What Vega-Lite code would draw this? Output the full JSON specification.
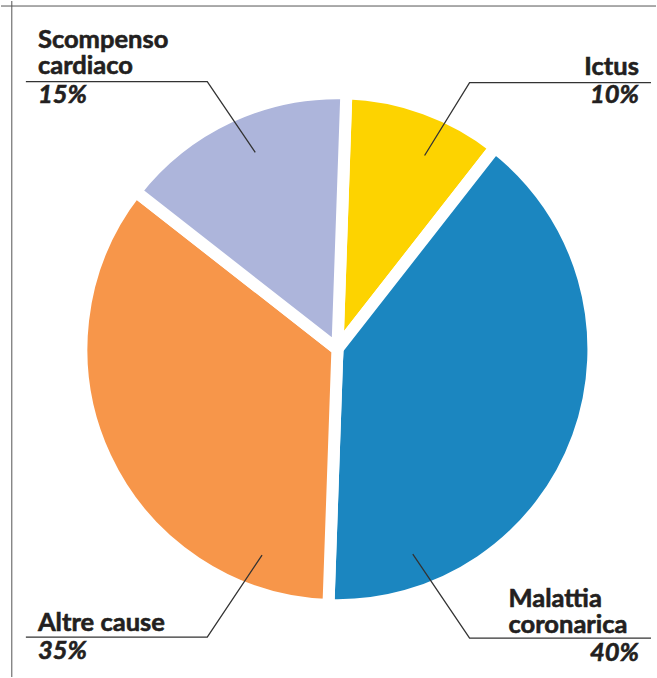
{
  "$schema": "https://vega.github.io/schema/vega-lite/v6.json",
  "width": 657,
  "height": 678,
  "autosize": {"type": "fit", "contains": "padding"},
  "padding": 0,
  "background": "white",
  "config": {"view": {"stroke": null}},
  "datasets": {
    "slices": [
      {"cause": "Ictus", "value": 10, "ord": 1},
      {"cause": "Malattia coronarica", "value": 40, "ord": 2},
      {"cause": "Altre cause", "value": 35, "ord": 3},
      {"cause": "Scompenso cardiaco", "value": 15, "ord": 4}
    ],
    "leaders": [
      {"label": "Scompenso", "ord": 1, "x": -0.337, "y": 0.778},
      {"label": "Scompenso", "ord": 2, "x": -0.528, "y": 1.06},
      {"label": "Scompenso", "ord": 3, "x": -1.25, "y": 1.06},
      {"label": "Ictus", "ord": 1, "x": 0.337, "y": 0.766},
      {"label": "Ictus", "ord": 2, "x": 0.516, "y": 1.056},
      {"label": "Ictus", "ord": 3, "x": 1.238, "y": 1.056},
      {"label": "Altre", "ord": 1, "x": -0.31, "y": -0.825},
      {"label": "Altre", "ord": 2, "x": -0.528, "y": -1.151},
      {"label": "Altre", "ord": 3, "x": -1.25, "y": -1.151},
      {"label": "Malattia", "ord": 1, "x": 0.29, "y": -0.821},
      {"label": "Malattia", "ord": 2, "x": 0.516, "y": -1.155},
      {"label": "Malattia", "ord": 3, "x": 1.238, "y": -1.155}
    ],
    "labels": [
      {"text": "Scompenso", "kind": "name", "side": "L", "x": -1.202, "y": 1.193},
      {"text": "cardiaco", "kind": "name", "side": "L", "x": -1.202, "y": 1.089},
      {"text": "Ictus", "kind": "name", "side": "R", "x": 1.19, "y": 1.085},
      {"text": "Altre cause", "kind": "name", "side": "L", "x": -1.202, "y": -1.127},
      {"text": "Malattia", "kind": "name", "side": "L", "x": 0.671, "y": -1.032},
      {"text": "coronarica", "kind": "name", "side": "L", "x": 0.671, "y": -1.133},
      {"text": "15%", "kind": "pct", "side": "L", "x": -1.202, "y": 0.975},
      {"text": "10%", "kind": "pct", "side": "R", "x": 1.19, "y": 0.975},
      {"text": "35%", "kind": "pct", "side": "L", "x": -1.202, "y": -1.24},
      {"text": "40%", "kind": "pct", "side": "R", "x": 1.19, "y": -1.248}
    ]
  },
  "layer": [
    {
      "data": {"name": "slices"},
      "mark": {"type": "arc", "outerRadius": 256, "stroke": "white", "strokeWidth": 12},
      "encoding": {
        "x": {"datum": -0.01, "type": "quantitative", "scale": {"domain": [-1.349, 1.258], "nice": false, "zero": false}, "axis": null},
        "y": {"datum": -0.005, "type": "quantitative", "scale": {"domain": [-1.31, 1.381], "nice": false, "zero": false}, "axis": null},
        "theta": {"field": "value", "type": "quantitative", "stack": true, "scale": {"range": [0.035, 6.318]}},
        "color": {"field": "cause", "type": "nominal", "legend": null,
          "scale": {"domain": ["Ictus", "Malattia coronarica", "Altre cause", "Scompenso cardiaco"],
                    "range": ["#FDD300", "#1B86C0", "#F7964A", "#ADB5DB"]}},
        "order": {"field": "ord", "type": "quantitative"}
      }
    },
    {
      "data": {"name": "leaders"},
      "mark": {"type": "line", "color": "#333333", "strokeWidth": 1.3},
      "encoding": {
        "x": {"field": "x", "type": "quantitative", "scale": {"domain": [-1.349, 1.258], "nice": false, "zero": false}, "axis": null},
        "y": {"field": "y", "type": "quantitative", "scale": {"domain": [-1.31, 1.381], "nice": false, "zero": false}, "axis": null},
        "detail": {"field": "label"},
        "order": {"field": "ord", "type": "quantitative"}
      }
    },
    {
      "data": {"values": [{}]},
      "mark": {"type": "rule", "color": "#555555", "strokeWidth": 1},
      "encoding": {
        "x": {"datum": -1.306, "type": "quantitative", "scale": {"domain": [-1.349, 1.258], "nice": false, "zero": false}, "axis": null}
      }
    },
    {
      "data": {"values": [{}]},
      "mark": {"type": "rule", "color": "#555555", "strokeWidth": 1},
      "encoding": {
        "y": {"datum": 1.361, "type": "quantitative", "scale": {"domain": [-1.31, 1.381], "nice": false, "zero": false}, "axis": null}
      }
    },
    {
      "data": {"name": "labels"},
      "transform": [{"filter": "datum.kind === 'name' && datum.side === 'L'"}],
      "mark": {"type": "text", "font": "Lato", "fontWeight": "bold", "fontSize": 25.5, "color": "#231F20", "stroke": "#231F20", "strokeWidth": 0.6, "align": "left", "baseline": "alphabetic"},
      "encoding": {
        "x": {"field": "x", "type": "quantitative", "scale": {"domain": [-1.349, 1.258], "nice": false, "zero": false}, "axis": null},
        "y": {"field": "y", "type": "quantitative", "scale": {"domain": [-1.31, 1.381], "nice": false, "zero": false}, "axis": null},
        "text": {"field": "text"}
      }
    },
    {
      "data": {"name": "labels"},
      "transform": [{"filter": "datum.kind === 'name' && datum.side === 'R'"}],
      "mark": {"type": "text", "font": "Lato", "fontWeight": "bold", "fontSize": 25.5, "color": "#231F20", "stroke": "#231F20", "strokeWidth": 0.6, "align": "right", "baseline": "alphabetic"},
      "encoding": {
        "x": {"field": "x", "type": "quantitative", "scale": {"domain": [-1.349, 1.258], "nice": false, "zero": false}, "axis": null},
        "y": {"field": "y", "type": "quantitative", "scale": {"domain": [-1.31, 1.381], "nice": false, "zero": false}, "axis": null},
        "text": {"field": "text"}
      }
    },
    {
      "data": {"name": "labels"},
      "transform": [{"filter": "datum.kind === 'pct' && datum.side === 'L'"}],
      "mark": {"type": "text", "font": "Lato", "fontWeight": "bold", "fontStyle": "italic", "fontSize": 25.5, "color": "#231F20", "stroke": "#231F20", "strokeWidth": 0.6, "align": "left", "baseline": "alphabetic"},
      "encoding": {
        "x": {"field": "x", "type": "quantitative", "scale": {"domain": [-1.349, 1.258], "nice": false, "zero": false}, "axis": null},
        "y": {"field": "y", "type": "quantitative", "scale": {"domain": [-1.31, 1.381], "nice": false, "zero": false}, "axis": null},
        "text": {"field": "text"}
      }
    },
    {
      "data": {"name": "labels"},
      "transform": [{"filter": "datum.kind === 'pct' && datum.side === 'R'"}],
      "mark": {"type": "text", "font": "Lato", "fontWeight": "bold", "fontStyle": "italic", "fontSize": 25.5, "color": "#231F20", "stroke": "#231F20", "strokeWidth": 0.6, "align": "right", "baseline": "alphabetic"},
      "encoding": {
        "x": {"field": "x", "type": "quantitative", "scale": {"domain": [-1.349, 1.258], "nice": false, "zero": false}, "axis": null},
        "y": {"field": "y", "type": "quantitative", "scale": {"domain": [-1.31, 1.381], "nice": false, "zero": false}, "axis": null},
        "text": {"field": "text"}
      }
    }
  ]
}
